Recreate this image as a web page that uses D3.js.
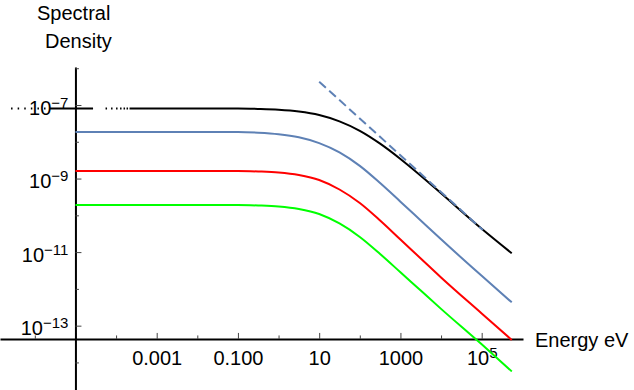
<!DOCTYPE html>
<html>
<head>
<meta charset="utf-8">
<script src="https://cdn.jsdelivr.net/npm/d3@7"></script>
<style>
  body { margin: 0; background: #fff; }
  svg { display: block; font-family: Arial, "Liberation Sans", Helvetica, sans-serif; }
</style>
</head>
<body>
<svg id="chart" width="634" height="390"></svg>
<script>
const energy = [1e-5, 1e-3, 0.1, 0.316, 1, 3.16, 10, 31.6, 100, 316, 1000, 3162, 1e4, 1e5, 5.5e5];
const blackEnergy = [2.6e-7, 1e-5, 1e-3, 0.1, 0.316, 1, 3.16, 10, 31.6, 100, 316, 1000, 3162, 1e4, 1e5, 5.5e5];

const blackDensity = [8.03e-8, 8.03e-8, 8.03e-8, 8.03e-8, 7.83e-8, 7.45e-8, 6.66e-8, 5.35e-8, 3.6e-8, 1.99e-8, 8.92e-9, 3.42e-9, 1.196e-9, 3.97e-10, 4.31e-11, 9.29e-12];
const blueDensity = [1.845e-8, 1.845e-8, 1.845e-8, 1.766e-8, 1.607e-8, 1.324e-8, 9.21e-9, 5.14e-9, 2.21e-9, 7.53e-10, 2.35e-10, 7.24e-11, 2.23e-11, 2.26e-12, 4.3e-13];
const redDensity = [1.605e-9, 1.605e-9, 1.605e-9, 1.556e-9, 1.462e-9, 1.25e-9, 9.14e-10, 5.04e-10, 2.165e-10, 7.24e-11, 2.2e-11, 6.71e-12, 2.04e-12, 2.14e-13, 4.08e-14];
const greenDensity = [1.91e-10, 1.91e-10, 1.91e-10, 1.852e-10, 1.739e-10, 1.487e-10, 1.087e-10, 6.0e-11, 2.58e-11, 8.89e-12, 2.83e-12, 8.99e-13, 2.86e-13, 3.1e-14, 5.71e-15];

// high energy power law (dashed)
const asymEnergy = [10, 1.07e5];
const asymDensity = [4.3e-7, 4.0e-11];

// axes
const originEnergy = 1e-5;
const originDensity = 4.35e-14;
const xTicks = [1e-6, 1e-5, 1e-4, 1e-3, 1e-2, 0.1, 1, 10, 100, 1000, 1e4, 1e5];
const yTicks = [1e-6, 1e-7, 1e-8, 1e-9, 1e-10, 1e-11, 1e-12, 1e-13, 1e-14];
const xLabelValues = [1e-3, 0.1, 10, 1000, 1e5];
const xLabelText = ['0.001', '0.100', '10', '1000', '10^5'];
const yLabelValues = [1e-7, 1e-9, 1e-11, 1e-13];
const yLabelText = ['10^−7', '10^−9', '10^−11', '10^−13'];

const svg = d3.select('#chart');

const x = d3.scaleLog().domain([1.39e-7, 1.04e6]).range([0, 523]);
const y = d3.scaleLog().domain([1.08e-6, 1.78e-15]).range([67, 390]);

const isMajor = d => Math.abs(Math.round(Math.log10(d))) % 2 === 1;

function addLabel(sel, txt, fontSize) {
  const parts = txt.split('^');
  sel.append('tspan').text(parts[0]);
  if (parts[1]) {
    sel.append('tspan').attr('font-size', fontSize).attr('dy', -7).text(parts[1]);
  }
}

// x axis
const xAxis = svg.append('g')
  .attr('transform', `translate(0,${y(originDensity)})`)
  .call(d3.axisBottom(x).tickValues(xTicks).tickFormat(() => '').tickSize(-6).tickSizeOuter(0));
xAxis.select('.domain').attr('stroke', '#000').attr('stroke-width', 2);
xAxis.selectAll('.tick line')
  .attr('stroke', '#444')
  .attr('y2', d => (isMajor(d) ? -6 : -3.5));
xAxis.selectAll('.tick text').remove();
xAxis.selectAll('.tick').each(function (d) {
  const i = xLabelValues.indexOf(d);
  if (i < 0) return;
  const t = d3.select(this).append('text')
    .attr('y', 26)
    .attr('fill', '#000')
    .attr('font-size', 20)
    .attr('text-anchor', 'middle');
  addLabel(t, xLabelText[i], 15);
});

// y axis
const yAxis = svg.append('g')
  .attr('transform', `translate(${x(originEnergy)},0)`)
  .call(d3.axisLeft(y).tickValues(yTicks).tickFormat(() => '').tickSize(-6).tickSizeOuter(0));
yAxis.select('.domain').attr('stroke', '#000').attr('stroke-width', 2);
yAxis.selectAll('.tick line')
  .attr('stroke', '#444')
  .attr('x2', d => (isMajor(d) ? 6 : 3.5));
yAxis.selectAll('.tick text').remove();
yAxis.selectAll('.tick').each(function (d) {
  const i = yLabelValues.indexOf(d);
  if (i < 0) return;
  const t = d3.select(this).append('text')
    .attr('x', -7)
    .attr('y', 9)
    .attr('fill', '#000')
    .attr('font-size', 20)
    .attr('text-anchor', 'end');
  addLabel(t, yLabelText[i], 15);
});

// axis titles
svg.append('text').attr('x', 37).attr('y', 19.5).attr('font-size', 20).text('Spectral');
svg.append('text').attr('x', 45).attr('y', 47.5).attr('font-size', 20).text('Density');
svg.append('text').attr('x', 535).attr('y', 346.5).attr('font-size', 20).text('Energy eV');

// curves
const line = d3.line()
  .x(d => x(d[0]))
  .y(d => y(d[1]))
  .curve(d3.curveMonotoneX);

const series = [
  { e: blackEnergy, s: blackDensity, color: '#000000',
    dash: '1.5,5.1,1.5,5.1,1.5,5.1,1.5,5.1,1.5,5.1,1.5,4.5,43,12.5,1.5,4,1.5,3.5,1.5,2.5,1.5,2,1.5,1.5,1.5,1.5,10000' },
  { e: energy, s: blueDensity, color: '#5e81b5' },
  { e: energy, s: redDensity, color: '#ff0000' },
  { e: energy, s: greenDensity, color: '#00ff00' },
];

svg.append('g')
  .selectAll('path')
  .data(series)
  .join('path')
  .attr('fill', 'none')
  .attr('stroke', d => d.color)
  .attr('stroke-width', 2)
  .attr('stroke-dasharray', d => d.dash || null)
  .attr('d', d => line(d.e.map((v, i) => [v, d.s[i]])));

svg.append('path')
  .attr('fill', 'none')
  .attr('stroke', '#5e81b5')
  .attr('stroke-width', 2)
  .attr('stroke-dasharray', '9,4.5')
  .attr('d', d3.line().x(d => x(d[0])).y(d => y(d[1]))(asymEnergy.map((v, i) => [v, asymDensity[i]])));
</script>
</body>
</html>
